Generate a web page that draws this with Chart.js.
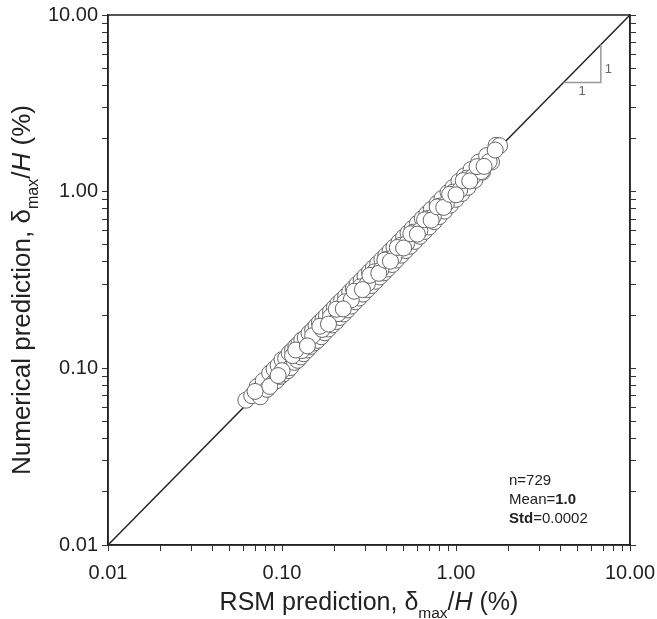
<!DOCTYPE html>
<html>
<head>
<meta charset="utf-8">
<script src="https://cdn.jsdelivr.net/npm/chart.js@4.4.1/dist/chart.umd.min.js"></script>
<style>
  body { margin: 0; background: #fff; }
  #wrap { width: 657px; height: 619px; }
</style>
</head>
<body>
<div id="wrap"><canvas id="scatter" width="657" height="619"></canvas></div>
<script>
// axis range and decade labels
const AXIS_MIN = 0.01;
const AXIS_MAX = 10;
const DECADES = [0.01, 0.1, 1, 10];

// RSM prediction (x) vs numerical prediction (y), delta_max/H in %
const xRsm = [
  0.062, 0.067, 0.072, 0.075, 0.078, 0.082, 0.085, 0.088, 0.09, 0.093, 0.095, 0.098,
  0.10, 0.102, 0.105, 0.108, 0.11, 0.112, 0.115, 0.118, 0.12, 0.123, 0.125, 0.128,
  0.13, 0.133, 0.136, 0.14, 0.143, 0.146, 0.15, 0.153, 0.157, 0.16, 0.164, 0.168,
  0.172, 0.176, 0.18, 0.185, 0.19, 0.195, 0.2, 0.205, 0.21, 0.215, 0.22, 0.226,
  0.232, 0.238, 0.245, 0.25, 0.257, 0.264, 0.27, 0.278, 0.285, 0.292, 0.3, 0.31,
  0.318, 0.326, 0.335, 0.345, 0.355, 0.365, 0.375, 0.385, 0.395, 0.405, 0.418, 0.43,
  0.44, 0.455, 0.47, 0.485, 0.5, 0.515, 0.53, 0.545, 0.56, 0.58, 0.6, 0.62,
  0.64, 0.66, 0.68, 0.7, 0.72, 0.75, 0.78, 0.8, 0.83, 0.86, 0.9, 0.93,
  0.96, 1.0, 1.04, 1.08, 1.12, 1.17, 1.22, 1.28, 1.35, 1.42, 1.5, 1.6, 1.7, 1.78,
  0.085, 0.1, 0.115, 0.13, 0.15, 0.17, 0.19, 0.21, 0.23, 0.25, 0.28, 0.31,
  0.34, 0.37, 0.4, 0.44, 0.48, 0.52, 0.57, 0.62, 0.68, 0.74, 0.8, 0.88,
  0.96, 1.05, 1.15, 1.25, 1.4, 1.55, 1.68,
  0.07, 0.095, 0.12, 0.14, 0.165, 0.185, 0.205, 0.225, 0.26, 0.29, 0.32, 0.36,
  0.39, 0.42, 0.46, 0.5, 0.55, 0.6, 0.66, 0.72, 0.78, 0.85, 0.92, 1.0,
  1.1, 1.2, 1.32, 1.45
];
const yNum = [
  0.066, 0.070, 0.079, 0.069, 0.085, 0.076, 0.094, 0.082, 0.099, 0.085, 0.104, 0.090,
  0.112, 0.093, 0.114, 0.097, 0.122, 0.101, 0.127, 0.108, 0.133, 0.111, 0.138, 0.116,
  0.145, 0.121, 0.149, 0.127, 0.158, 0.133, 0.165, 0.139, 0.174, 0.144, 0.182, 0.151,
  0.190, 0.159, 0.199, 0.167, 0.210, 0.176, 0.221, 0.184, 0.233, 0.194, 0.243, 0.203,
  0.256, 0.214, 0.271, 0.225, 0.284, 0.238, 0.299, 0.250, 0.315, 0.263, 0.332, 0.279,
  0.352, 0.294, 0.370, 0.311, 0.392, 0.329, 0.414, 0.347, 0.436, 0.365, 0.462, 0.387,
  0.486, 0.410, 0.519, 0.437, 0.552, 0.464, 0.585, 0.491, 0.618, 0.523, 0.662, 0.559,
  0.706, 0.595, 0.750, 0.631, 0.794, 0.676, 0.860, 0.722, 0.915, 0.776, 0.990, 0.840,
  1.056, 0.905, 1.145, 0.976, 1.230, 1.058, 1.335, 1.160, 1.470, 1.290, 1.600, 1.470, 1.830, 1.820,
  0.079, 0.097, 0.118, 0.126, 0.153, 0.166, 0.196, 0.204, 0.238, 0.244, 0.289, 0.302,
  0.352, 0.361, 0.414, 0.428, 0.497, 0.508, 0.590, 0.603, 0.704, 0.722, 0.828, 0.858,
  0.993, 1.020, 1.190, 1.215, 1.300, 1.480, 1.720,
  0.074, 0.091, 0.127, 0.134, 0.173, 0.178, 0.216, 0.217, 0.273, 0.279, 0.336, 0.345,
  0.410, 0.404, 0.483, 0.480, 0.578, 0.575, 0.693, 0.690, 0.820, 0.815, 0.966, 0.960,
  1.155, 1.150, 1.386, 1.390
];

// 1:1 line and the slope triangle
const lineX = [AXIS_MIN, AXIS_MAX];
const lineY = [AXIS_MIN, AXIS_MAX];
const triX = [4.15, 6.8, 6.8];
const triY = [4.15, 4.15, 6.8];

const statLines = [
  [{ t: 'n=729' }],
  [{ t: 'Mean=' }, { t: '1.0', bold: true }],
  [{ t: 'Std', bold: true }, { t: '=0.0002' }]
];

const FONT = '"Liberation Sans", Arial, sans-serif';

function toPoints(xs, ys) {
  return xs.map((x, i) => ({ x, y: ys[i] }));
}

function logTicks(scale) {
  const ticks = [];
  for (let d = 0; d < DECADES.length - 1; d++) {
    for (let m = 1; m < 10; m++) ticks.push({ value: +(DECADES[d] * m).toPrecision(3) });
  }
  ticks.push({ value: AXIS_MAX });
  scale.ticks = ticks;
}

function isDecade(v) {
  const l = Math.log10(v);
  return Math.abs(l - Math.round(l)) < 1e-9;
}

// draws a label made of pieces, with subscript / italic parts
function drawRich(c, parts, x, y, size, align) {
  const fontOf = p => (p.italic ? 'italic ' : '') + (p.bold ? 'bold ' : '') + (p.sub ? size * 0.62 : size) + 'px ' + FONT;
  let total = 0;
  parts.forEach(p => { c.font = fontOf(p); total += c.measureText(p.t).width; });
  let cx = align === 'center' ? x - total / 2 : x;
  c.textAlign = 'left';
  c.textBaseline = 'alphabetic';
  parts.forEach(p => {
    c.font = fontOf(p);
    c.fillText(p.t, cx, y + (p.sub ? size * 0.3 : 0));
    cx += c.measureText(p.t).width;
  });
}

const extras = {
  id: 'extras',
  afterDraw(chart) {
    const c = chart.ctx;
    const a = chart.chartArea;
    c.save();
    // box
    c.strokeStyle = '#222';
    c.lineWidth = 1.5;
    c.strokeRect(a.left, a.top, a.right - a.left, a.bottom - a.top);

    c.fillStyle = '#222';
    const xTitle = [{ t: 'RSM prediction, δ' }, { t: 'max', sub: true }, { t: '/' }, { t: 'H', italic: true }, { t: ' (%)' }];
    drawRich(c, xTitle, (a.left + a.right) / 2, 610, 25, 'center');

    const yTitle = [{ t: 'Numerical prediction, δ' }, { t: 'max', sub: true }, { t: '/' }, { t: 'H', italic: true }, { t: ' (%)' }];
    c.save();
    c.translate(30, (a.top + a.bottom) / 2 + 10);
    c.rotate(-Math.PI / 2);
    drawRich(c, yTitle, 0, 0, 26, 'center');
    c.restore();

    // slope triangle labels
    const xs = chart.scales.x, ys = chart.scales.y;
    c.fillStyle = '#666';
    c.font = '13px ' + FONT;
    c.textAlign = 'left';
    c.textBaseline = 'middle';
    c.fillText('1', xs.getPixelForValue(triX[1]) + 4, (ys.getPixelForValue(triY[1]) + ys.getPixelForValue(triY[2])) / 2 + 6);
    c.textAlign = 'center';
    c.textBaseline = 'top';
    c.fillText('1', (xs.getPixelForValue(triX[0]) + xs.getPixelForValue(triX[1])) / 2, ys.getPixelForValue(triY[0]) + 2);

    // stats box
    c.fillStyle = '#fff';
    c.fillRect(a.right - 127, a.bottom - 75, 97, 55);
    c.fillStyle = '#222';
    statLines.forEach((parts, i) => {
      drawRich(c, parts, a.right - 121, a.bottom - 60 + i * 19, 15, 'left');
    });
    c.restore();
  }
};

const axisCommon = {
  type: 'logarithmic',
  min: AXIS_MIN,
  max: AXIS_MAX,
  afterBuildTicks: logTicks,
  border: { display: true, color: '#222', width: 1.5 },
  grid: { display: true, drawOnChartArea: false, drawTicks: true, tickLength: 6, color: '#333', lineWidth: 1 }
};

new Chart(document.getElementById('scatter'), {
  type: 'scatter',
  data: {
    datasets: [
      {
        label: 'points',
        data: toPoints(xRsm, yNum),
        pointRadius: 8,
        pointBackgroundColor: '#fff',
        pointBorderColor: '#666',
        pointBorderWidth: 1,
        order: 1
      },
      {
        label: '1:1',
        data: toPoints(lineX, lineY),
        showLine: true,
        pointRadius: 0,
        borderColor: '#222',
        borderWidth: 1.5,
        order: 3
      },
      {
        label: 'slope',
        data: toPoints(triX, triY),
        showLine: true,
        pointRadius: 0,
        borderColor: '#999',
        borderWidth: 1.5,
        order: 2
      }
    ]
  },
  options: {
    responsive: false,
    animation: false,
    layout: { padding: { top: 15, left: 0, right: 0, bottom: 0 } },
    plugins: { legend: { display: false }, tooltip: { enabled: false } },
    scales: {
      x: Object.assign({}, axisCommon, {
        position: 'bottom',
        afterFit: s => { s.height = 74; s.paddingLeft = 0; s.paddingRight = 0; },
        ticks: {
          autoSkip: false, maxRotation: 0, padding: 10, color: '#222',
          font: { family: FONT, size: 20 },
          callback: v => isDecade(v) ? v.toFixed(2) : ''
        }
      }),
      y: Object.assign({}, axisCommon, {
        position: 'left',
        afterFit: s => { s.width = 108; s.paddingTop = 0; s.paddingBottom = 0; },
        ticks: {
          autoSkip: false, padding: 4, color: '#222',
          font: { family: FONT, size: 20 },
          callback: v => isDecade(v) ? v.toFixed(2) : ''
        }
      }),
      y2: Object.assign({}, axisCommon, {
        position: 'right',
        afterFit: s => { s.width = 27; },
        ticks: { display: false }
      })
    }
  },
  plugins: [extras]
});
</script>
</body>
</html>
